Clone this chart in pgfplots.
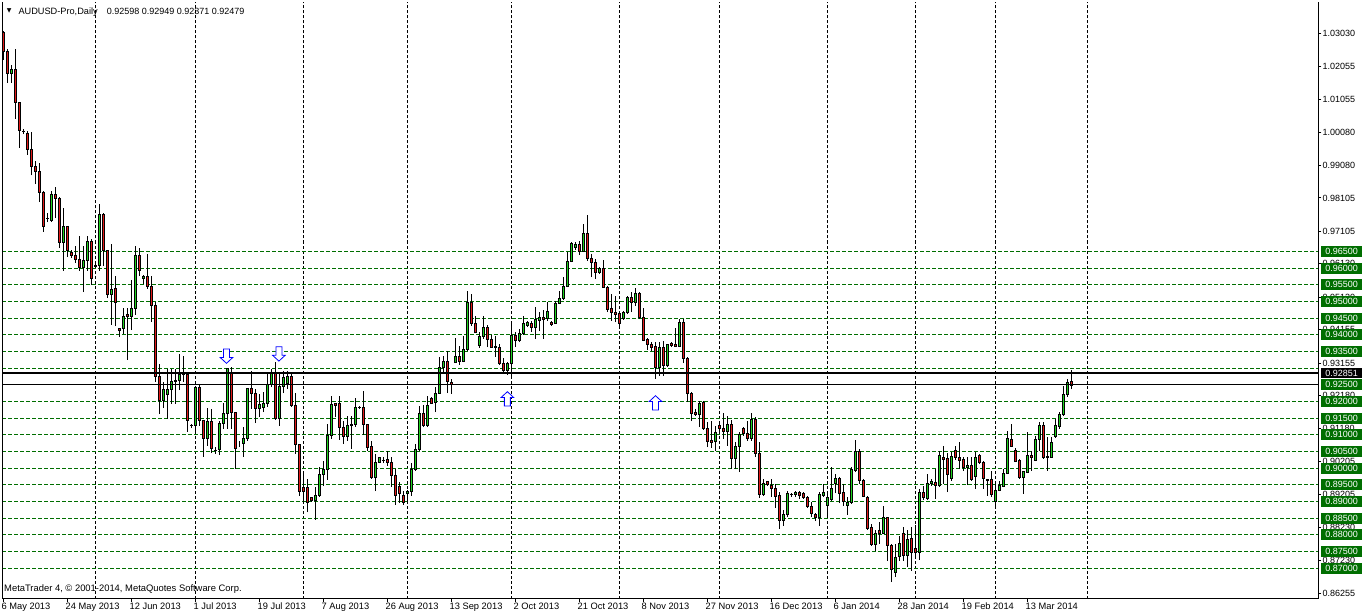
\documentclass[border=0pt]{standalone}
\usepackage{pgfplots}
\pgfplotsset{compat=1.18}
\usepackage{pgfplotstable}
\usepackage{fontspec}
\setmainfont{Liberation Sans}
\newfontfamily\dejavu{DejaVu Sans}
\definecolor{bull}{RGB}{30,210,30}
\definecolor{bear}{RGB}{225,25,25}
\definecolor{lvlgreen}{RGB}{0,110,0}
\definecolor{arrowblue}{RGB}{0,0,255}

\pgfdeclareplotmark{dnarrow}{%
  \pgfpathmoveto{\pgfpoint{-3pt}{7pt}}%
  \pgfpathlineto{\pgfpoint{3pt}{7pt}}%
  \pgfpathlineto{\pgfpoint{3pt}{-1.5pt}}%
  \pgfpathlineto{\pgfpoint{6.3pt}{-1.5pt}}%
  \pgfpathlineto{\pgfpoint{0pt}{-7.3pt}}%
  \pgfpathlineto{\pgfpoint{-6.3pt}{-1.5pt}}%
  \pgfpathlineto{\pgfpoint{-3pt}{-1.5pt}}%
  \pgfpathclose
  \pgfusepathqfillstroke}
\pgfdeclareplotmark{uparrow}{%
  \pgfpathmoveto{\pgfpoint{-3pt}{-7pt}}%
  \pgfpathlineto{\pgfpoint{3pt}{-7pt}}%
  \pgfpathlineto{\pgfpoint{3pt}{1.5pt}}%
  \pgfpathlineto{\pgfpoint{6.3pt}{1.5pt}}%
  \pgfpathlineto{\pgfpoint{0pt}{7.3pt}}%
  \pgfpathlineto{\pgfpoint{-6.3pt}{1.5pt}}%
  \pgfpathlineto{\pgfpoint{-3pt}{1.5pt}}%
  \pgfpathclose
  \pgfusepathqfillstroke}

\pgfplotstableread{
i O H L C
0 1.0308 1.0310 1.0225 1.0250
1 1.0250 1.0256 1.0156 1.0183
2 1.0183 1.0210 1.0156 1.0196
3 1.0196 1.0256 1.0048 1.0096
4 1.0096 1.0096 0.9961 1.0012
5 1.0011 1.0018 1.0002 1.0009
6 1.0004 1.0012 0.9940 0.9956
7 0.9956 1.0008 0.9878 0.9904
8 0.9904 0.9920 0.9852 0.9890
9 0.9890 0.9914 0.9798 0.9826
10 0.9826 0.9831 0.9710 0.9724
11 0.9748 0.9766 0.9738 0.9749
12 0.9744 0.9831 0.9738 0.9820
13 0.9820 0.9844 0.9750 0.9810
14 0.9810 0.9812 0.9660 0.9678
15 0.9678 0.9780 0.9593 0.9724
16 0.9724 0.9725 0.9633 0.9652
17 0.9648 0.9656 0.9630 0.9638
18 0.9638 0.9668 0.9616 0.9626
19 0.9626 0.9698 0.9592 0.9602
20 0.9602 0.9668 0.9528 0.9622
21 0.9622 0.9698 0.9593 0.9680
22 0.9680 0.9688 0.9550 0.9570
23 0.9605 0.9612 0.9602 0.9609
24 0.9608 0.9793 0.9593 0.9760
25 0.9760 0.9764 0.9608 0.9652
26 0.9652 0.9654 0.9510 0.9522
27 0.9522 0.9673 0.9431 0.9536
28 0.9540 0.9576 0.9426 0.9498
29 0.9418 0.9422 0.9394 0.9412
30 0.9418 0.9480 0.9402 0.9456
31 0.9460 0.9480 0.9325 0.9456
32 0.9456 0.9566 0.9414 0.9478
33 0.9478 0.9666 0.9460 0.9638
34 0.9638 0.9662 0.9576 0.9592
35 0.9568 0.9580 0.9554 0.9576
36 0.9576 0.9644 0.9538 0.9544
37 0.9544 0.9576 0.9438 0.9488
38 0.9488 0.9498 0.9260 0.9274
39 0.9274 0.9312 0.9162 0.9202
40 0.9202 0.9260 0.9182 0.9236
41 0.9220 0.9298 0.9148 0.9236
42 0.9236 0.9298 0.9194 0.9260
43 0.9259 0.9298 0.9194 0.9262
44 0.9262 0.9342 0.9234 0.9282
45 0.9280 0.9338 0.9260 0.9283
46 0.9282 0.9282 0.9110 0.9142
47 0.9128 0.9134 0.9120 0.9127
48 0.9128 0.9248 0.9110 0.9242
49 0.9242 0.9250 0.9128 0.9142
50 0.9142 0.9143 0.9034 0.9088
51 0.9088 0.9182 0.9068 0.9140
52 0.9139 0.9178 0.9046 0.9058
53 0.9052 0.9063 0.9043 0.9054
54 0.9055 0.9143 0.9041 0.9135
55 0.9135 0.9195 0.9118 0.9163
56 0.9163 0.9300 0.9118 0.9298
57 0.9285 0.9305 0.9118 0.9168
58 0.9168 0.9168 0.8998 0.9058
59 0.9075 0.9083 0.9063 0.9075
60 0.9075 0.9123 0.9033 0.9088
61 0.9088 0.9241 0.9083 0.9238
62 0.9238 0.9293 0.9178 0.9225
63 0.9225 0.9238 0.9135 0.9178
64 0.9178 0.9223 0.9153 0.9191
65 0.9181 0.9228 0.9168 0.9193
66 0.9193 0.9285 0.9185 0.9250
67 0.9250 0.9298 0.9243 0.9285
68 0.9285 0.9318 0.9145 0.9148
69 0.9148 0.9283 0.9128 0.9245
70 0.9245 0.9293 0.9225 0.9271
71 0.9253 0.9293 0.9238 0.9275
72 0.9275 0.9283 0.9185 0.9188
73 0.9188 0.9225 0.9043 0.9070
74 0.9070 0.9071 0.8918 0.8931
75 0.8941 0.8993 0.8898 0.8931
76 0.8941 0.8969 0.8868 0.8897
77 0.8911 0.8915 0.8899 0.8903
78 0.8903 0.8943 0.8845 0.8918
79 0.8918 0.9003 0.8915 0.8980
80 0.8980 0.9023 0.8948 0.8996
81 0.8996 0.9133 0.8966 0.9098
82 0.9098 0.9218 0.9088 0.9191
83 0.9193 0.9197 0.9153 0.9188
84 0.9193 0.9218 0.9085 0.9123
85 0.9123 0.9141 0.9073 0.9095
86 0.9095 0.9158 0.9083 0.9128
87 0.9127 0.9158 0.9058 0.9131
88 0.9131 0.9211 0.9125 0.9183
89 0.9183 0.9188 0.9178 0.9182
90 0.9183 0.9233 0.9101 0.9131
91 0.9131 0.9131 0.9053 0.9063
92 0.9065 0.9083 0.8968 0.8973
93 0.8973 0.9043 0.8931 0.9018
94 0.9018 0.9033 0.9015 0.9031
95 0.9023 0.9033 0.9015 0.9022
96 0.9025 0.9053 0.9008 0.9018
97 0.9018 0.9033 0.8945 0.8978
98 0.8978 0.8998 0.8891 0.8918
99 0.8945 0.8958 0.8895 0.8923
100 0.8918 0.8933 0.8891 0.8898
101 0.8923 0.8935 0.8898 0.8930
102 0.8929 0.9015 0.8918 0.8995
103 0.8995 0.9073 0.8993 0.9055
104 0.9055 0.9188 0.9053 0.9163
105 0.9163 0.9191 0.9123 0.9127
106 0.9127 0.9218 0.9123 0.9188
107 0.9208 0.9215 0.9193 0.9195
108 0.9198 0.9243 0.9168 0.9225
109 0.9225 0.9333 0.9223 0.9303
110 0.9303 0.9338 0.9283 0.9321
111 0.9321 0.9351 0.9225 0.9261
112 0.9258 0.9268 0.9223 0.9251
113 0.9318 0.9391 0.9316 0.9335
114 0.9335 0.9368 0.9311 0.9321
115 0.9321 0.9398 0.9318 0.9355
116 0.9355 0.9531 0.9353 0.9498
117 0.9498 0.9523 0.9428 0.9435
118 0.9435 0.9458 0.9405 0.9408
119 0.9368 0.9408 0.9361 0.9395
120 0.9395 0.9458 0.9388 0.9421
121 0.9421 0.9431 0.9363 0.9385
122 0.9385 0.9401 0.9361 0.9363
123 0.9365 0.9398 0.9335 0.9361
124 0.9363 0.9373 0.9311 0.9313
125 0.9315 0.9331 0.9289 0.9293
126 0.9293 0.9318 0.9281 0.9315
127 0.9315 0.9438 0.9278 0.9398
128 0.9398 0.9408 0.9363 0.9383
129 0.9383 0.9418 0.9378 0.9403
130 0.9403 0.9458 0.9401 0.9433
131 0.9428 0.9443 0.9423 0.9438
132 0.9435 0.9443 0.9408 0.9421
133 0.9421 0.9483 0.9388 0.9445
134 0.9443 0.9468 0.9411 0.9453
135 0.9451 0.9475 0.9388 0.9447
136 0.9448 0.9498 0.9443 0.9471
137 0.9437 0.9443 0.9428 0.9430
138 0.9435 0.9503 0.9433 0.9495
139 0.9495 0.9533 0.9493 0.9508
140 0.9508 0.9573 0.9505 0.9545
141 0.9545 0.9648 0.9543 0.9620
142 0.9620 0.9678 0.9618 0.9673
143 0.9661 0.9678 0.9655 0.9671
144 0.9671 0.9683 0.9641 0.9651
145 0.9651 0.9733 0.9648 0.9703
146 0.9703 0.9758 0.9623 0.9628
147 0.9628 0.9643 0.9573 0.9618
148 0.9618 0.9628 0.9568 0.9586
149 0.9586 0.9603 0.9583 0.9598
150 0.9598 0.9625 0.9541 0.9543
151 0.9543 0.9548 0.9468 0.9475
152 0.9478 0.9523 0.9443 0.9468
153 0.9468 0.9518 0.9438 0.9461
154 0.9463 0.9468 0.9418 0.9435
155 0.9448 0.9473 0.9445 0.9467
156 0.9467 0.9518 0.9463 0.9511
157 0.9511 0.9528 0.9468 0.9498
158 0.9498 0.9541 0.9488 0.9525
159 0.9525 0.9530 0.9448 0.9453
160 0.9453 0.9481 0.9381 0.9383
161 0.9385 0.9391 0.9355 0.9371
162 0.9371 0.9378 0.9353 0.9363
163 0.9365 0.9378 0.9268 0.9301
164 0.9301 0.9378 0.9278 0.9363
165 0.9363 0.9383 0.9278 0.9308
166 0.9308 0.9373 0.9305 0.9371
167 0.9375 0.9378 0.9363 0.9367
168 0.9371 0.9421 0.9363 0.9365
169 0.9365 0.9448 0.9363 0.9438
170 0.9438 0.9448 0.9315 0.9328
171 0.9328 0.9333 0.9198 0.9225
172 0.9225 0.9228 0.9141 0.9165
173 0.9168 0.9178 0.9158 0.9161
174 0.9161 0.9201 0.9123 0.9195
175 0.9198 0.9203 0.9115 0.9118
176 0.9118 0.9138 0.9063 0.9081
177 0.9083 0.9143 0.9061 0.9076
178 0.9081 0.9128 0.9053 0.9108
179 0.9128 0.9138 0.9111 0.9118
180 0.9118 0.9165 0.9088 0.9111
181 0.9111 0.9158 0.9068 0.9131
182 0.9131 0.9145 0.8998 0.9028
183 0.9028 0.9078 0.8998 0.9065
184 0.9065 0.9108 0.8988 0.9101
185 0.9118 0.9125 0.9098 0.9103
186 0.9103 0.9143 0.9083 0.9088
187 0.9088 0.9165 0.9083 0.9145
188 0.9145 0.9153 0.9033 0.9045
189 0.9045 0.9078 0.8911 0.8921
190 0.8921 0.8968 0.8918 0.8955
191 0.8961 0.8963 0.8948 0.8951
192 0.8948 0.8968 0.8915 0.8938
193 0.8938 0.8953 0.8881 0.8915
194 0.8918 0.8928 0.8818 0.8843
195 0.8843 0.8875 0.8828 0.8861
196 0.8861 0.8931 0.8853 0.8923
197 0.8920 0.8925 0.8915 0.8921
198 0.8921 0.8933 0.8913 0.8928
199 0.8928 0.8933 0.8908 0.8918
200 0.8923 0.8928 0.8908 0.8911
201 0.8911 0.8918 0.8881 0.8885
202 0.8885 0.8898 0.8853 0.8863
203 0.8861 0.8865 0.8843 0.8851
204 0.8851 0.8928 0.8828 0.8921
205 0.8919 0.8953 0.8915 0.8927
206 0.8888 0.8933 0.8853 0.8911
207 0.8905 0.9003 0.8901 0.8938
208 0.8955 0.8983 0.8925 0.8968
209 0.8968 0.8975 0.8895 0.8923
210 0.8928 0.8953 0.8888 0.8901
211 0.8888 0.8913 0.8861 0.8897
212 0.8898 0.9005 0.8893 0.8997
213 0.8993 0.9085 0.8988 0.9051
214 0.9051 0.9058 0.8953 0.8963
215 0.8963 0.8968 0.8913 0.8915
216 0.8913 0.8918 0.8815 0.8818
217 0.8823 0.8833 0.8768 0.8771
218 0.8771 0.8815 0.8753 0.8805
219 0.8813 0.8838 0.8773 0.8803
220 0.8805 0.8888 0.8803 0.8853
221 0.8851 0.8853 0.8723 0.8768
222 0.8768 0.8773 0.8658 0.8695
223 0.8686 0.8773 0.8673 0.8733
224 0.8735 0.8798 0.8723 0.8773
225 0.8803 0.8823 0.8723 0.8738
226 0.8738 0.8815 0.8705 0.8785
227 0.8788 0.8823 0.8693 0.8748
228 0.8758 0.8831 0.8733 0.8748
229 0.8748 0.8938 0.8725 0.8928
230 0.8928 0.8948 0.8905 0.8911
231 0.8908 0.8983 0.8905 0.8955
232 0.8953 0.8968 0.8948 0.8960
233 0.8958 0.8998 0.8908 0.8948
234 0.8948 0.9053 0.8943 0.9038
235 0.9031 0.9068 0.8953 0.9025
236 0.9028 0.9045 0.8928 0.8981
237 0.8968 0.9048 0.8963 0.9035
238 0.9053 0.9068 0.9025 0.9031
239 0.9032 0.9079 0.8998 0.9024
240 0.9025 0.9033 0.8993 0.9003
241 0.9001 0.9033 0.8951 0.9007
242 0.9007 0.9033 0.8963 0.8965
243 0.8975 0.9048 0.8938 0.9031
244 0.9038 0.9043 0.9013 0.9017
245 0.9016 0.9023 0.8938 0.8968
246 0.8967 0.8968 0.8918 0.8963
247 0.8965 0.8993 0.8913 0.8921
248 0.8901 0.8953 0.8878 0.8933
249 0.8933 0.8963 0.8931 0.8948
250 0.8945 0.8998 0.8943 0.8983
251 0.8985 0.9113 0.8983 0.9088
252 0.9085 0.9133 0.9063 0.9065
253 0.9053 0.9061 0.9018 0.9021
254 0.9023 0.9028 0.8968 0.8973
255 0.8973 0.8993 0.8923 0.8990
256 0.8988 0.9108 0.8985 0.9038
257 0.9038 0.9053 0.8993 0.9031
258 0.9023 0.9098 0.9021 0.9085
259 0.9085 0.9138 0.9053 0.9128
260 0.9128 0.9138 0.9028 0.9031
261 0.9035 0.9093 0.8993 0.9031
262 0.9033 0.9095 0.9031 0.9078
263 0.9095 0.9148 0.9091 0.9128
264 0.9125 0.9168 0.9118 0.9161
265 0.9161 0.9248 0.9158 0.9221
266 0.9221 0.9268 0.9215 0.9258
267 0.92598 0.92949 0.92371 0.92479
}\candles

\pgfplotsset{chartaxis/.style={at={(0pt,-0.5pt)}, anchor=south west,
  scale only axis, width=1316.5pt, height=596pt,
  xmin=-0.375, xmax=328.75, ymin=0.8609, ymax=1.0397}}
\tikzset{lvl/.style={anchor=west, inner sep=0pt, minimum width=41pt, minimum height=11pt,
  fill=lvlgreen, text=white, font=\fontsize{9}{10}\selectfont}}

\begin{document}
\begin{tikzpicture}
\useasboundingbox (-2pt,-16pt) rectangle (1360pt,598pt);
\begin{axis}[chartaxis,
  axis x line*=bottom, axis y line*=right,
  axis line style={black, line width=1pt},
  xtick={0,16,...,256},
  xticklabels={6 May 2013,24 May 2013,12 Jun 2013,1 Jul 2013,19 Jul 2013,7 Aug 2013,26 Aug 2013,13 Sep 2013,2 Oct 2013,21 Oct 2013,8 Nov 2013,27 Nov 2013,16 Dec 2013,6 Jan 2014,28 Jan 2014,19 Feb 2014,13 Mar 2014},
  ytick={0.86255,0.87230,0.88230,0.89205,0.90205,0.91180,0.92180,0.93155,0.94155,0.95130,0.96130,0.97105,0.98105,0.99080,1.00080,1.01055,1.02055,1.03030},
  yticklabels={0.86255,0.87230,0.88230,0.89205,0.90205,0.91180,0.92180,0.93155,0.94155,0.95130,0.96130,0.97105,0.98105,0.99080,1.00080,1.01055,1.02055,1.03030},
  tick align=outside, major tick length=3pt,
  tick style={black, line width=1pt},
  xticklabel style={font=\fontsize{9.3}{10}\selectfont, anchor=north west, inner sep=0pt, xshift=-2pt, yshift=-1pt},
  yticklabel style={font=\fontsize{9}{10}\selectfont, anchor=west, inner sep=0pt, xshift=1pt},
  ]
  \pgfplotsinvokeforeach{23,48,75,101,127,154,179,206,228,248,271}{
    \addplot[black, line width=1pt, dash pattern=on 3pt off 2pt] coordinates {(#1,0.8609) (#1,1.0397)};
  }
  \pgfplotsinvokeforeach{0.8699,0.8750,0.8801,0.8849,0.8900,0.8951,0.8999,0.9050,0.9101,0.9149,0.9200,0.9251,0.9299,0.9350,0.9401,0.9449,0.9500,0.9551,0.9599,0.9650}{
    \addplot[lvlgreen, line width=1pt, dash pattern=on 4pt off 2pt] coordinates {(-0.375,#1) (328.75,#1)};
  }
  \addplot[black, line width=1pt] coordinates {(-0.25,0.8609) (-0.25,1.0397)};
  \addplot[draw=none, mark=none, forget plot, error bars/.cd, y dir=plus, y explicit, error mark=none,
    error bar style={draw=black, line width=1pt, solid}]
    table[x=i, y=L, y error plus expr=\thisrow{H}-\thisrow{L}] {\candles};
\end{axis}

\begin{axis}[chartaxis, hide axis, ybar stacked, bar width=0.5]
  \addplot[draw=none, fill=none] table[x=i, y expr={min(\thisrow{O},\thisrow{C})}] {\candles};
  \addplot[fill=bull, draw=black, line width=1pt] table[x=i, y expr={max(\thisrow{C}-\thisrow{O},0)}] {\candles};
  \addplot[fill=bear, draw=black, line width=1pt] table[x=i, y expr={max(\thisrow{O}-\thisrow{C},0)}] {\candles};
\end{axis}

\begin{axis}[chartaxis, hide axis, clip=false]
  \addplot[black, line width=2pt] coordinates {(-0.375,0.92851) (328.75,0.92851)};
  \addplot[black, line width=1pt] coordinates {(-0.375,0.9251) (328.75,0.9251)};
  \addplot[only marks, mark=dnarrow, mark options={draw=arrowblue, fill=white, line width=0.8pt, solid}]
    coordinates {(55.75,0.93365) (68.85,0.93431)};
  \addplot[only marks, mark=uparrow, mark options={draw=arrowblue, fill=white, line width=0.8pt, solid}]
    coordinates {(125.97,0.92075) (163,0.91955)};
  \node[lvl] at (axis cs:329.375,0.9650) {0.96500};
  \node[lvl] at (axis cs:329.375,0.9599) {0.96000};
  \node[lvl] at (axis cs:329.375,0.9551) {0.95500};
  \node[lvl] at (axis cs:329.375,0.9500) {0.95000};
  \node[lvl] at (axis cs:329.375,0.9449) {0.94500};
  \node[lvl] at (axis cs:329.375,0.9401) {0.94000};
  \node[lvl] at (axis cs:329.375,0.9350) {0.93500};
  \node[lvl] at (axis cs:329.375,0.9251) {0.92500};
  \node[lvl] at (axis cs:329.375,0.9200) {0.92000};
  \node[lvl] at (axis cs:329.375,0.9149) {0.91500};
  \node[lvl] at (axis cs:329.375,0.9101) {0.91000};
  \node[lvl] at (axis cs:329.375,0.9050) {0.90500};
  \node[lvl] at (axis cs:329.375,0.8999) {0.90000};
  \node[lvl] at (axis cs:329.375,0.8951) {0.89500};
  \node[lvl] at (axis cs:329.375,0.8900) {0.89000};
  \node[lvl] at (axis cs:329.375,0.8849) {0.88500};
  \node[lvl] at (axis cs:329.375,0.8801) {0.88000};
  \node[lvl] at (axis cs:329.375,0.8750) {0.87500};
  \node[lvl] at (axis cs:329.375,0.8699) {0.87000};
  \node[lvl, fill=black, minimum height=10pt] at (axis cs:329.375,0.92851) {0.92851};
\end{axis}

\node at (7.3pt,587pt) {\dejavu\fontsize{6}{6}\selectfont ▼};
\node[anchor=base west, inner sep=0pt, font=\fontsize{9.2}{10}\selectfont] at (16.3pt,583.8pt) {AUDUSD-Pro,Daily};
\node[anchor=base west, inner sep=0pt, font=\fontsize{9}{10}\selectfont] at (104.7pt,583.8pt) {0.92598 0.92949 0.92371 0.92479};
\node[anchor=base west, inner sep=0pt, font=\fontsize{9.4}{10}\selectfont] at (2pt,6.8pt) {MetaTrader 4, © 2001-2014, MetaQuotes Software Corp.};
\end{tikzpicture}
\end{document}
